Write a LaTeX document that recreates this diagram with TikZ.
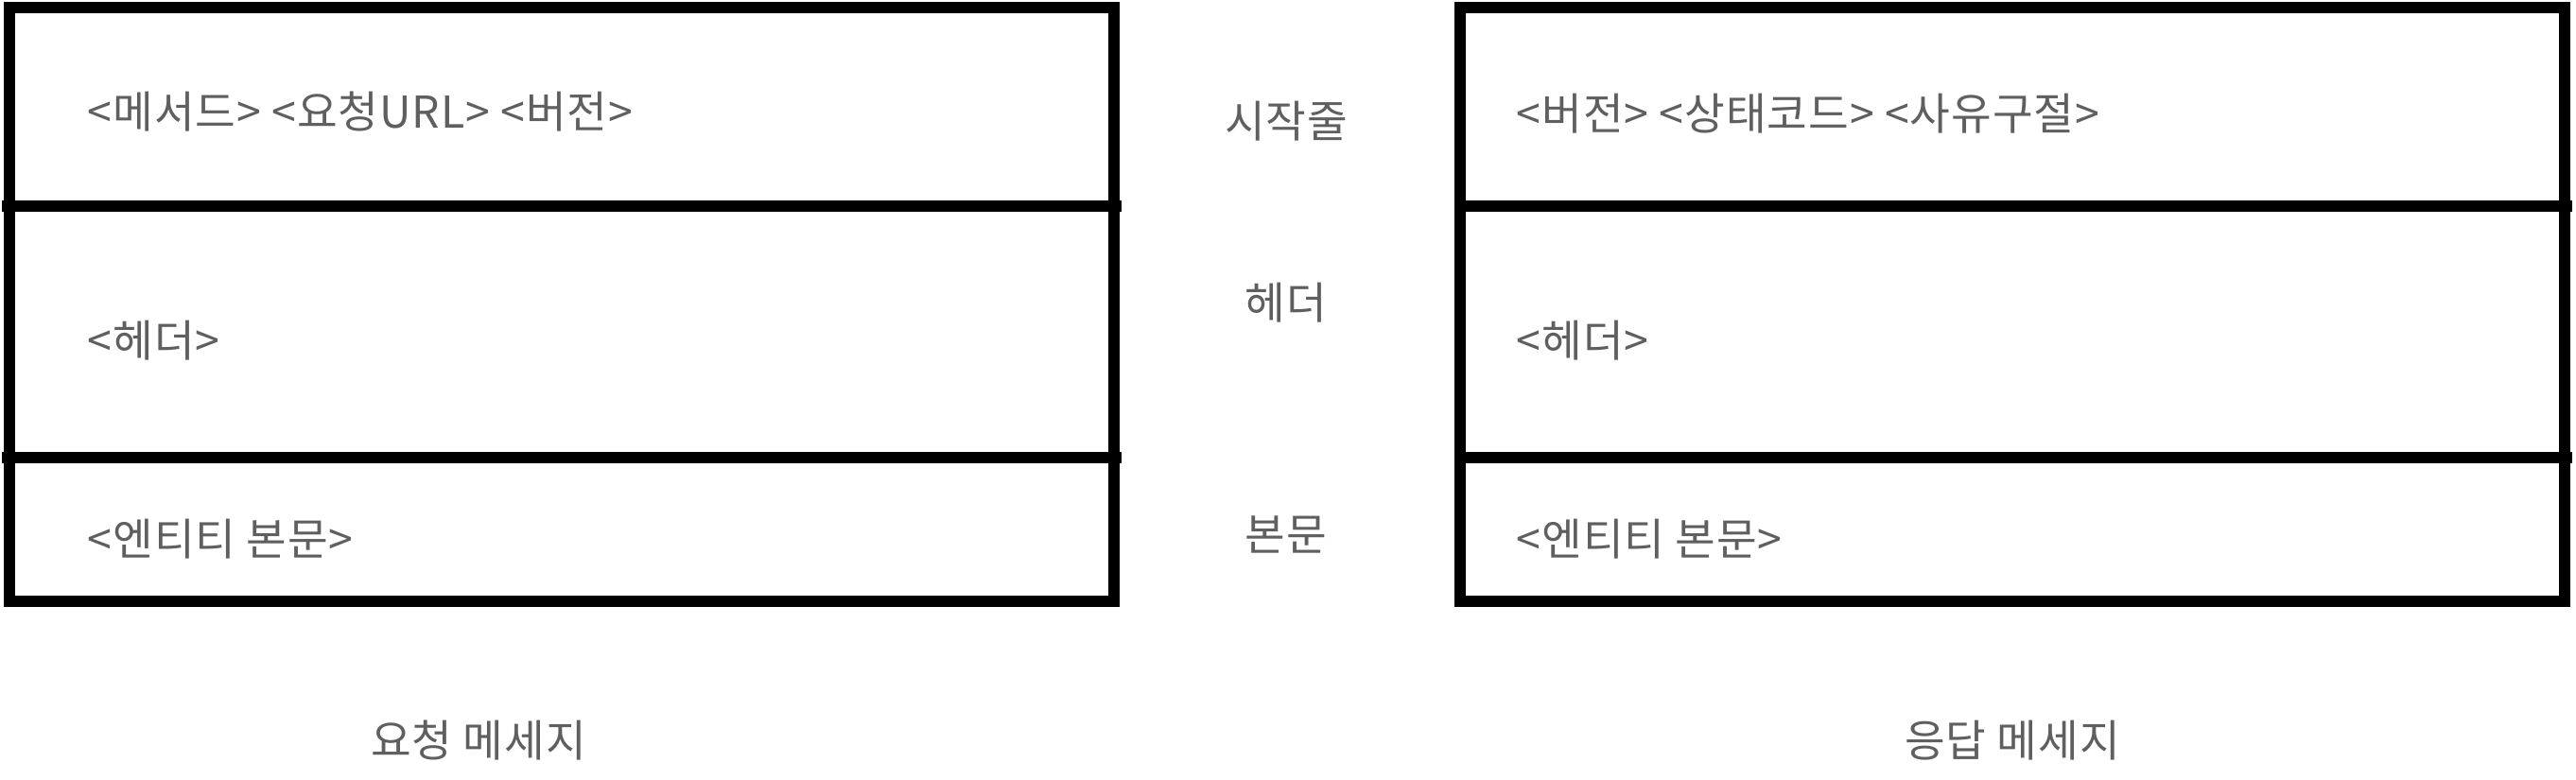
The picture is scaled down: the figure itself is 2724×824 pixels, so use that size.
\documentclass[tikz,border=0pt]{standalone}
\usepackage{fontspec}
\setmainfont{Noto Sans CJK KR}[LetterSpace=2]
\usetikzlibrary{positioning}
\definecolor{labelgray}{HTML}{5F5F5F}

\begin{document}
\begin{tikzpicture}[
  x=0.01cm,y=-0.01cm,
  frame/.style={draw=black,line width=0.12cm},
  divider/.style={frame,line cap=butt},
  field/.style={anchor=base west,inner sep=0pt,text=labelgray,font=\fontsize{13.2pt}{15.5pt}\selectfont},
  part/.style={field,anchor=base}
]
\useasboundingbox (0,0) rectangle (2724,824);

% Request message.
\draw[frame] (10,8) rectangle (1178,636);
\draw[divider] (2,218) -- (1186,218);
\draw[divider] (2,484) -- (1186,484);
\node[field] (reqstart) at (92,135) {<메서드> <요청URL> <버전>};
\node[field] (reqhead) at (92,377) {<헤더>};
\node[field] (reqbody) at (92,587) {<엔티티 본문>};
\node[part] (reqcap) at (506,800) {요청 메세지};

% Names of the three parts.
\node[part] (start) at (1360,145) {시작줄};
\node[part] (head) at (1360,337) {헤더};
\node[part] (body) at (1360,582) {본문};

% Response message.
\draw[frame] (1544,8) rectangle (2712,636);
\draw[divider] (1538,218) -- (2720,218);
\draw[divider] (1538,484) -- (2720,484);
\node[field] (resstart) at (1603,137) {<버전> <상태코드> <사유구절>};
\node[field] (reshead) at (1603,377) {<헤더>};
\node[field] (resbody) at (1603,587) {<엔티티 본문>};
\node[part] (rescap) at (2128,800) {응답 메세지};
\end{tikzpicture}
\end{document}
